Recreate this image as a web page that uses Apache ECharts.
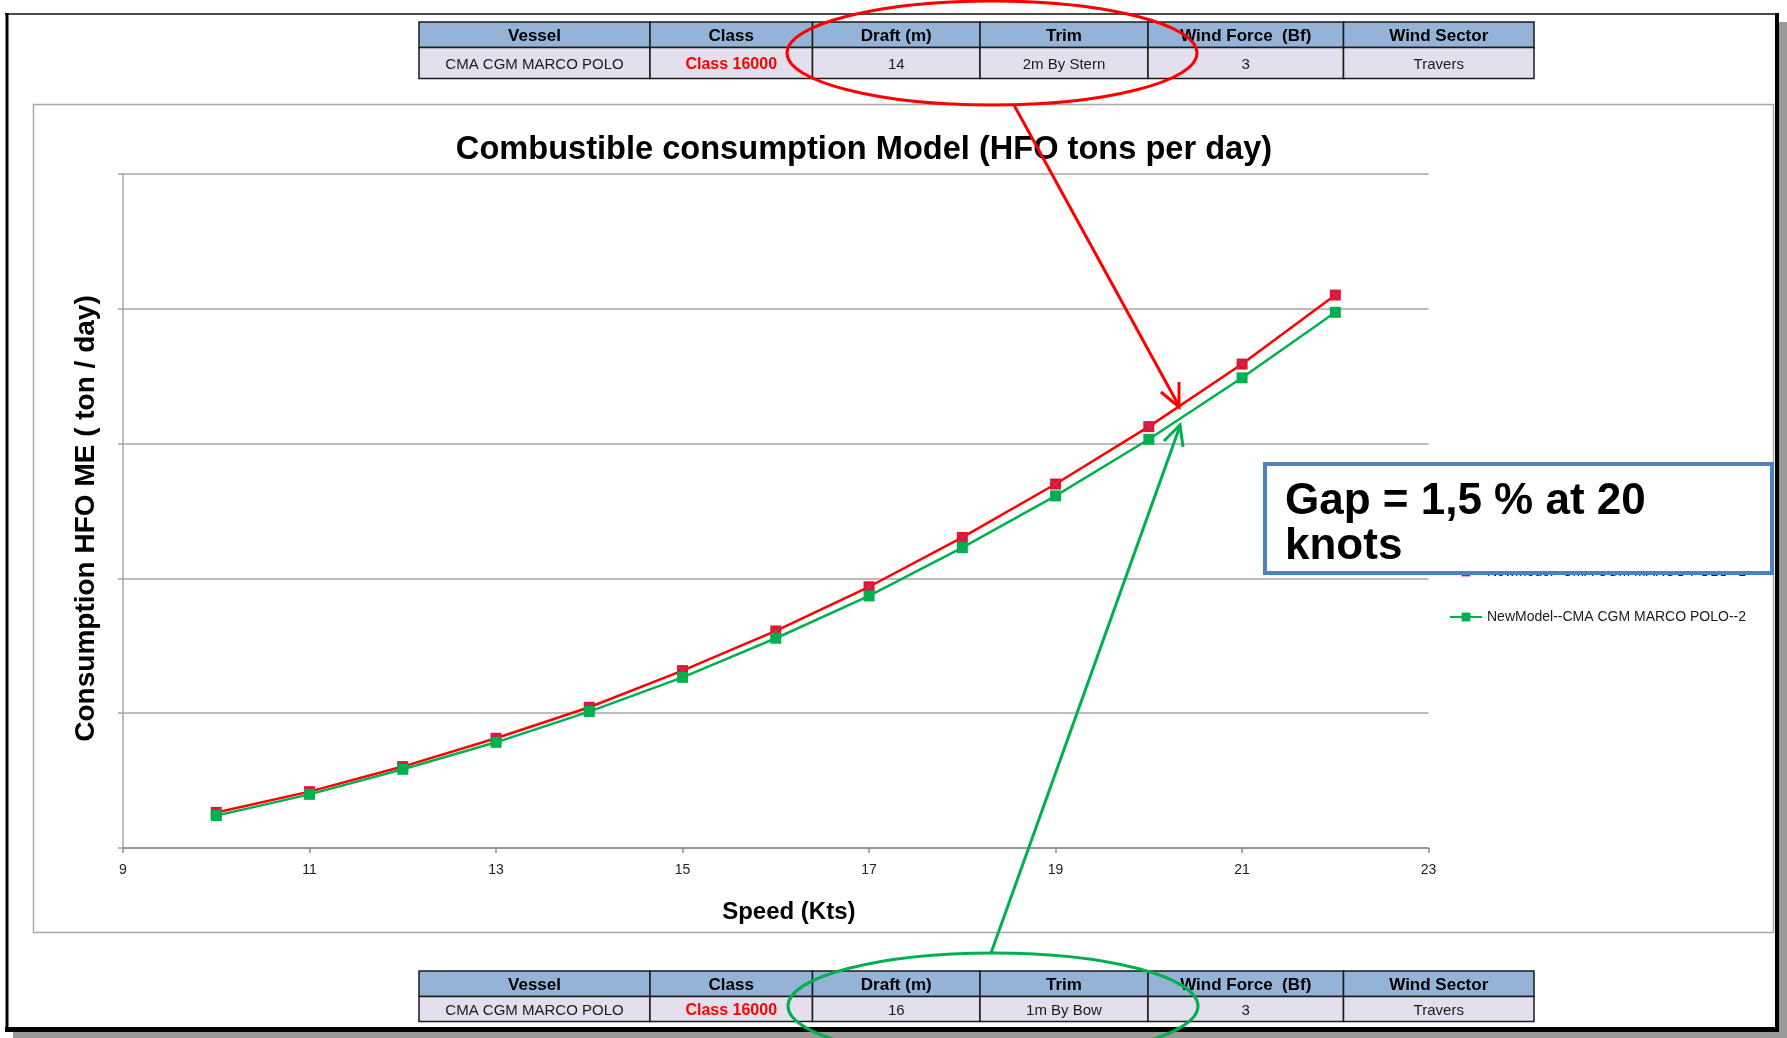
<!DOCTYPE html>
<html>
<head>
<meta charset="utf-8">
<title>Combustible consumption Model</title>
<script src="https://cdn.jsdelivr.net/npm/echarts@6/dist/echarts.min.js"></script>
<style>
  html, body { margin: 0; padding: 0; background: #ffffff; }
  #chart { width: 1787px; height: 1038px; }
</style>
</head>
<body>
<div id="chart"></div>
<script>
// Speeds (knots) and daily HFO consumption of the main engine (tons/day)
const speeds = [10, 11, 12, 13, 14, 15, 16, 17, 18, 19, 20, 21, 22];
const model1 = [13.2, 20.9, 30.2, 40.7, 52.2, 65.8, 80.5, 96.9, 115.2, 135.0, 156.3, 179.5, 205.1];
const model2 = [12.0, 19.9, 29.2, 39.2, 50.6, 63.3, 77.8, 93.5, 111.4, 130.6, 151.6, 174.4, 198.7];
const seriesNames = ['NewModel--CMA CGM MARCO POLO--1', 'NewModel--CMA CGM MARCO POLO--2'];

// Loading-condition tables
const tableHeaders = ['Vessel', 'Class', 'Draft (m)', 'Trim', 'Wind Force  (Bf)', 'Wind Sector'];
const condition1 = ['CMA CGM MARCO POLO', 'Class 16000', '14', '2m By Stern', '3', 'Travers'];
const condition2 = ['CMA CGM MARCO POLO', 'Class 16000', '16', '1m By Bow', '3', 'Travers'];

const chartTitle = 'Combustible consumption Model (HFO tons per day)';
const xTitle = 'Speed (Kts)';
const yTitle = 'Consumption HFO ME ( ton / day)';
const gapLines = ['Gap = 1,5 % at 20', 'knots'];

const FONT = '"Liberation Sans", Arial, sans-serif';
const colEdges = [419, 650, 812.5, 980, 1148, 1343.5, 1534];

function buildTable(top, headH, rowH, values) {
  const els = [];
  for (let i = 0; i < tableHeaders.length; i++) {
    const x0 = colEdges[i], w = colEdges[i + 1] - colEdges[i];
    els.push({
      type: 'rect', shape: { x: x0, y: top, width: w, height: headH },
      style: { fill: '#95B3D7', stroke: '#1a1a1a', lineWidth: 1.5 }
    });
    els.push({
      type: 'rect', shape: { x: x0, y: top + headH, width: w, height: rowH },
      style: { fill: '#E4DFEC', stroke: '#1a1a1a', lineWidth: 1.5 }
    });
    els.push({
      type: 'text', x: x0 + w / 2, y: top + headH / 2 + 1.5,
      style: { text: tableHeaders[i], font: 'bold 17px ' + FONT, fill: '#000',
               align: 'center', verticalAlign: 'middle', textAlign: 'center', textVerticalAlign: 'middle' }
    });
    const isClass = i === 1;
    els.push({
      type: 'text', x: x0 + w / 2, y: top + headH + rowH / 2 + 1.5,
      style: { text: values[i], font: (isClass ? 'bold 16px ' : '15px ') + FONT,
               fill: isClass ? '#FF0000' : '#1a1a1a',
               align: 'center', verticalAlign: 'middle', textAlign: 'center', textVerticalAlign: 'middle' }
    });
  }
  return els;
}

const frame = [
  // drop shadow on the right and bottom
  { type: 'rect', shape: { x: 1779, y: 22, width: 8, height: 1016 }, style: { fill: '#9a9a9a' } },
  { type: 'rect', shape: { x: 13, y: 1032, width: 1774, height: 6 }, style: { fill: '#9a9a9a' } },
  // outer frame
  { type: 'line', shape: { x1: 5, y1: 14, x2: 1779, y2: 14 }, style: { stroke: '#4a4a4a', lineWidth: 2 } },
  { type: 'line', shape: { x1: 7, y1: 13, x2: 7, y2: 1032 }, style: { stroke: '#000', lineWidth: 3 } },
  { type: 'line', shape: { x1: 1777, y1: 13, x2: 1777, y2: 1032 }, style: { stroke: '#000', lineWidth: 4 } },
  { type: 'line', shape: { x1: 5, y1: 1029.5, x2: 1779, y2: 1029.5 }, style: { stroke: '#000', lineWidth: 5 } },
  // chart area border
  { type: 'rect', shape: { x: 33.5, y: 104.5, width: 1740, height: 828 },
    style: { fill: null, stroke: '#a8a8a8', lineWidth: 1.5 } }
];

const notes = [
  // red callout: first loading condition
  { type: 'ellipse', z: 100, shape: { cx: 992, cy: 53, rx: 205, ry: 52 },
    style: { fill: null, stroke: '#FF0000', lineWidth: 3 } },
  { type: 'line', z: 100, shape: { x1: 1014, y1: 105, x2: 1179, y2: 406 },
    style: { stroke: '#FF0000', lineWidth: 3 } },
  { type: 'polyline', z: 100, shape: { points: [[1179, 382], [1179, 407], [1161, 392]] },
    style: { fill: null, stroke: '#FF0000', lineWidth: 3 } },
  // green callout: second loading condition
  { type: 'ellipse', z: 100, shape: { cx: 993, cy: 1006, rx: 205, ry: 53 },
    style: { fill: null, stroke: '#00B050', lineWidth: 3 } },
  { type: 'line', z: 100, shape: { x1: 991, y1: 953, x2: 1180, y2: 426 },
    style: { stroke: '#00B050', lineWidth: 3 } },
  { type: 'polyline', z: 100, shape: { points: [[1183, 447], [1180, 425], [1164, 441]] },
    style: { fill: null, stroke: '#00B050', lineWidth: 3 } },
  // gap note
  { type: 'rect', z: 100, shape: { x: 1265, y: 464, width: 507, height: 109 },
    style: { fill: '#ffffff', stroke: '#4F81BD', lineWidth: 4 } },
  { type: 'text', z: 101, x: 1285, y: 502,
    style: { text: gapLines[0], font: 'bold 44px ' + FONT, fill: '#000',
             align: 'left', verticalAlign: 'middle', textAlign: 'left', textVerticalAlign: 'middle' } },
  { type: 'text', z: 101, x: 1285, y: 547,
    style: { text: gapLines[1], font: 'bold 44px ' + FONT, fill: '#000',
             align: 'left', verticalAlign: 'middle', textAlign: 'left', textVerticalAlign: 'middle' } }
];

const chart = echarts.init(document.getElementById('chart'), null, { renderer: 'canvas' });

chart.setOption({
  backgroundColor: '#ffffff',
  animation: false,
  title: {
    text: chartTitle,
    left: 859, top: 129, textAlign: 'center',
    textStyle: { fontFamily: FONT, fontSize: 32.6, fontWeight: 'bold', color: '#000' }
  },
  grid: { left: 123, right: 358.4, top: 174, bottom: 190 },
  xAxis: {
    type: 'value', min: 9, max: 23, interval: 2,
    name: xTitle, nameLocation: 'middle', nameGap: 52,
    nameTextStyle: { fontFamily: FONT, fontSize: 24, fontWeight: 'bold', color: '#000', padding: [0, 0, 0, 26] },
    axisLine: { show: true, lineStyle: { color: '#8c8c8c', width: 1.5 } },
    axisTick: { show: true, length: 5, lineStyle: { color: '#8c8c8c', width: 1.5 } },
    axisLabel: { fontFamily: FONT, fontSize: 14, color: '#222', margin: 15 },
    splitLine: { show: false }
  },
  yAxis: {
    type: 'value', min: 0, max: 250, interval: 50,
    name: yTitle, nameLocation: 'middle', nameGap: 23,
    nameTextStyle: { fontFamily: FONT, fontSize: 28, fontWeight: 'bold', color: '#000', padding: [0, 15, 0, 0] },
    axisLine: { show: true, lineStyle: { color: '#a6a6a6', width: 1.5 } },
    axisTick: { show: true, length: 5, lineStyle: { color: '#a6a6a6', width: 1.5 } },
    axisLabel: { show: false },
    splitLine: { show: true, lineStyle: { color: '#a6a6a6', width: 1.5 } }
  },
  legend: {
    orient: 'vertical', left: 1444, top: 559,
    itemWidth: 32, itemHeight: 11, itemGap: 29,
    textStyle: { fontFamily: FONT, fontSize: 14, color: '#1a1a1a', lineHeight: 16 },
    data: seriesNames
  },
  series: [
    {
      type: 'line', name: seriesNames[0],
      data: speeds.map((s, i) => [s, model1[i]]),
      symbol: 'rect', symbolSize: 11, showSymbol: true,
      lineStyle: { color: '#FF0000', width: 2.5 },
      itemStyle: { color: '#E8112D' }
    },
    {
      // cross drawn on top of each square marker of the first model
      type: 'scatter', name: 'model1-cross', silent: true, z: 3,
      data: speeds.map((s, i) => [s, model1[i]]),
      symbol: 'path://M0,0L10,10M10,0L0,10', symbolSize: 9,
      itemStyle: { color: 'rgba(0,0,0,0)', borderColor: '#8a5a9e', borderWidth: 1 }
    },
    {
      type: 'line', name: seriesNames[1], z: 4,
      data: speeds.map((s, i) => [s, model2[i]]),
      symbol: 'rect', symbolSize: 11, showSymbol: true,
      lineStyle: { color: '#00B050', width: 2.5 },
      itemStyle: { color: '#00B050' }
    }
  ],
  graphic: {
    elements: [].concat(
      frame,
      buildTable(22, 25.5, 31, condition1),
      buildTable(971, 25.5, 25, condition2),
      notes
    )
  }
});
</script>
</body>
</html>
